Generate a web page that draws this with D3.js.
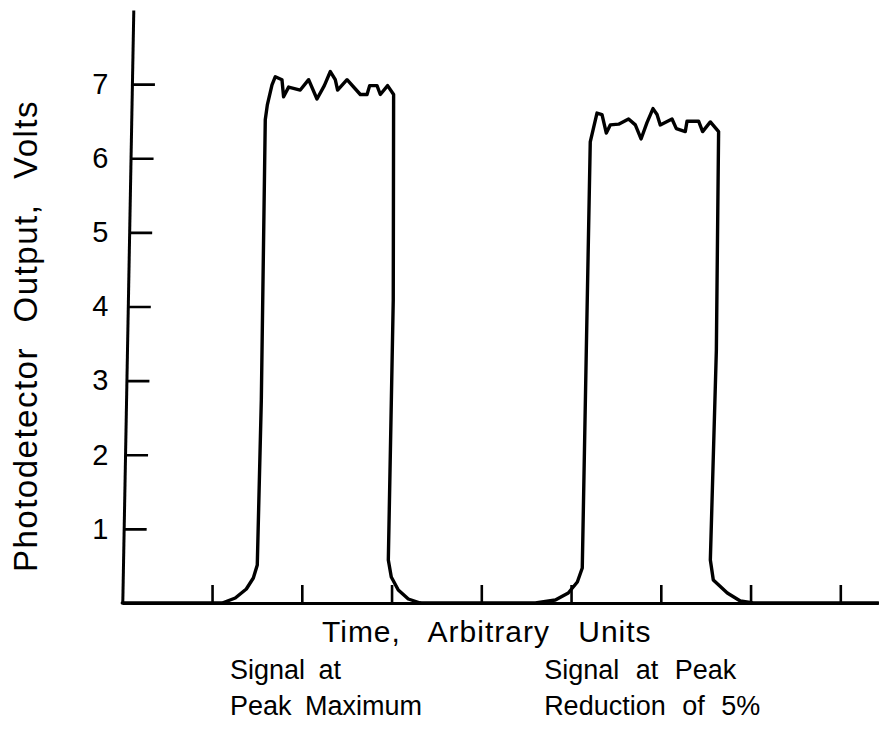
<!DOCTYPE html>
<html>
<head>
<meta charset="utf-8">
<script src="https://cdn.jsdelivr.net/npm/d3@7"></script>
<style>
  html, body { margin: 0; padding: 0; background: #fff; }
  svg { display: block; }
  text { font-family: "Liberation Sans", Arial, Helvetica, sans-serif; fill: #000; }
</style>
</head>
<body>
<svg id="chart" width="879" height="734"></svg>
<script>
// Photodetector trace for the signal at peak maximum (time in arbitrary units, volts)
const timePeakMax = [0, 1.114, 1.259, 1.382, 1.460, 1.504, 1.549, 1.593, 1.616, 1.668, 1.705, 1.779,
  1.797, 1.853, 1.983, 2.076, 2.169, 2.251, 2.318, 2.373, 2.399, 2.504, 2.652, 2.727, 2.756, 2.838,
  2.875, 2.956, 3.023, 3.019, 2.964, 2.997, 3.075, 3.187, 3.320];
const voltsPeakMax = [0, 0, 0.067, 0.189, 0.337, 0.513, 2.74, 6.52, 6.72, 6.99, 7.10, 7.06,
  6.83, 6.96, 6.92, 7.06, 6.80, 6.98, 7.17, 7.06, 6.92, 7.06, 6.86, 6.86, 6.98, 6.98,
  6.86, 6.98, 6.86, 4.09, 0.58, 0.35, 0.175, 0.054, 0];

// Trace for the signal at a peak reduction of 5%
const timePeakReduced = [3.320, 4.602, 4.825, 4.969, 5.070, 5.125, 5.170, 5.214, 5.289, 5.345, 5.393,
  5.437, 5.530, 5.641, 5.716, 5.780, 5.846, 5.913, 5.958, 5.994, 6.125, 6.173, 6.273, 6.292, 6.421,
  6.466, 6.552, 6.644, 6.619, 6.552, 6.585, 6.741, 6.886, 7.031, 8.42];
const voltsPeakReduced = [0, 0, 0.04, 0.135, 0.283, 0.472, 3.41, 6.22, 6.61, 6.59, 6.34,
  6.45, 6.46, 6.53, 6.45, 6.26, 6.48, 6.67, 6.59, 6.45, 6.53, 6.40, 6.36, 6.50, 6.50,
  6.36, 6.49, 6.36, 3.41, 0.58, 0.31, 0.135, 0.027, 0, 0];

const yTickValues = [1, 2, 3, 4, 5, 6, 7];
const xTickValues = [1, 2, 3, 4, 5, 6, 7, 8];
const xTitle = "Time, Arbitrary Units";
const yTitle = "Photodetector Output, Volts";
const captionLines = [["Signal at", "Peak Maximum"], ["Signal at Peak", "Reduction of 5%"]];

const svg = d3.select("#chart");

const x = d3.scaleLinear().domain([0, 8.42]).range([122.3, 878]);
const y = d3.scaleLinear().domain([0, 8]).range([603, 10]);

// Time axis: baseline with short inward ticks, no labels
const xAxisG = svg.append("g")
  .attr("transform", `translate(0,${y(0)})`)
  .call(d3.axisBottom(x).tickValues(xTickValues).tickSize(-18).tickSizeOuter(0).tickFormat(""));
xAxisG.select(".domain").attr("stroke", "#000").attr("stroke-width", 3);
xAxisG.selectAll(".tick line").attr("stroke", "#000").attr("stroke-width", 2.6);

// Voltage axis line and ticks, leaning slightly to the right toward the top
const lean = Math.atan(-11 / (y(0) - y(8))) * 180 / Math.PI;
const yAxisG = svg.append("g")
  .attr("transform", `translate(${x(0)},${y(0)}) skewX(${lean}) translate(0,${-y(0)})`)
  .call(d3.axisLeft(y).tickValues(yTickValues).tickSize(-23).tickSizeOuter(0).tickFormat(""));
yAxisG.select(".domain").attr("stroke", "#000").attr("stroke-width", 3);
yAxisG.selectAll(".tick line").attr("stroke", "#000").attr("stroke-width", 2.6);

// Voltage tick labels
const yLabelG = svg.append("g")
  .attr("transform", `translate(${x(0) + 2},0)`)
  .call(d3.axisLeft(y).tickValues(yTickValues).tickSize(0).tickPadding(16).tickFormat(d3.format("d")));
yLabelG.select(".domain").remove();
yLabelG.selectAll("text")
  .attr("font-family", "Liberation Sans, Arial, sans-serif")
  .attr("font-size", 29)
  .attr("fill", "#000");

// Traces
const line = d3.line().x(d => x(d[0])).y(d => y(d[1])).curve(d3.curveLinear);
const traces = [d3.zip(timePeakMax, voltsPeakMax), d3.zip(timePeakReduced, voltsPeakReduced)];
svg.append("g").selectAll("path")
  .data(traces)
  .join("path")
  .attr("d", line)
  .attr("fill", "none")
  .attr("stroke", "#000")
  .attr("stroke-width", 3.4)
  .attr("stroke-linejoin", "round")
  .attr("stroke-linecap", "round");

// Axis titles
svg.append("text")
  .attr("x", 322).attr("y", 642)
  .attr("font-size", 30)
  .attr("letter-spacing", 1)
  .attr("word-spacing", 19)
  .text(xTitle);

svg.append("text")
  .attr("transform", "translate(37,336) rotate(-90)")
  .attr("text-anchor", "middle")
  .attr("font-size", 33)
  .attr("letter-spacing", 1.5)
  .attr("word-spacing", 14)
  .text(yTitle);

// Captions under each pulse
const captionX = [x(1.2), x(4.7)];
const captionGap = [6, 9];
captionLines.forEach((lines, i) => {
  lines.forEach((s, j) => {
    svg.append("text")
      .attr("x", captionX[i])
      .attr("y", 679 + j * 36)
      .attr("font-size", 27)
      .attr("word-spacing", captionGap[i])
      .text(s);
  });
});
</script>
</body>
</html>
